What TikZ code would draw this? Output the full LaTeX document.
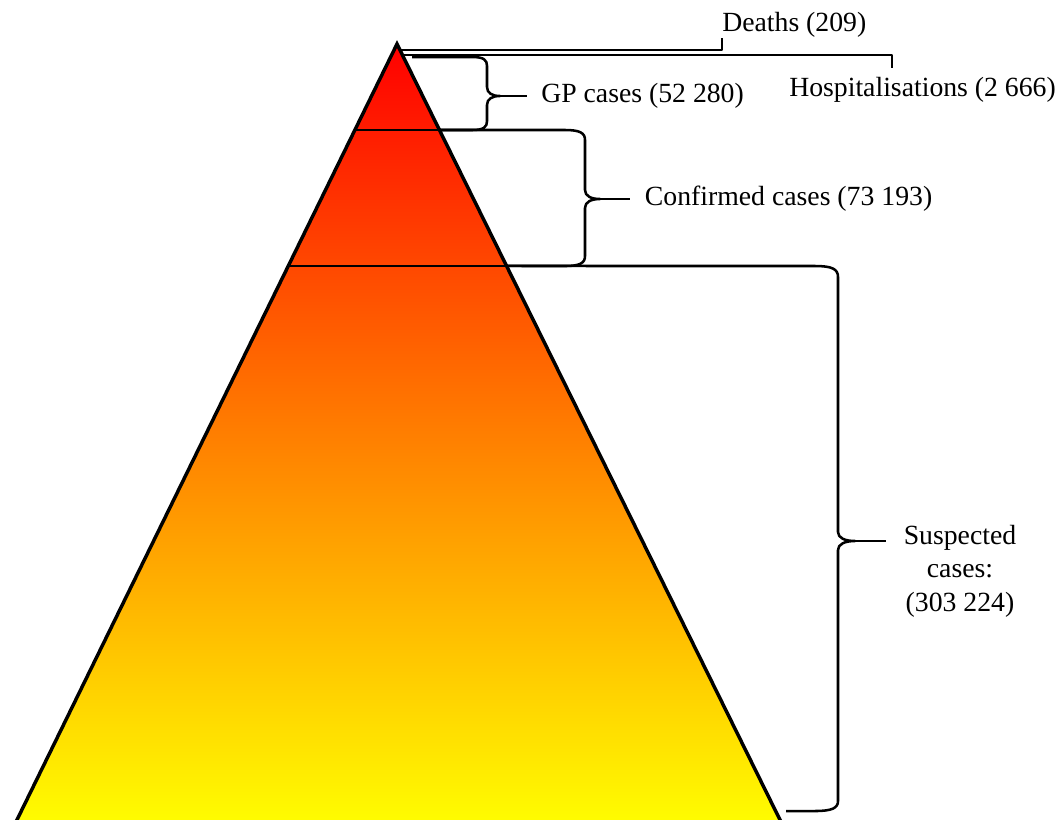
\documentclass[tikz,border=0pt]{standalone}
\usepackage{fontspec}
\setmainfont{Liberation Serif}
\usetikzlibrary{calc}

\begin{document}
\begin{tikzpicture}[x=0.75pt,y=0.75pt,yscale=-1,xscale=1,
  lbl/.style={font=\fontsize{20.8}{25}\selectfont, inner sep=0pt},
  brace/.style={line width=1.9, line join=round}]
%set diagram size to 1062 x 819
\clip (0,0) rectangle (1062,819);

%Shape: Triangle
\coordinate (apex) at (397,44);
\coordinate (bl) at (12,830);
\coordinate (br) at (785,830);
\shade [top color=red, bottom color=yellow] (apex) -- (bl) -- (br) -- cycle;
\draw [line width=2.6, line join=miter] (bl) -- (apex) -- (br);

%Straight Lines: levels
\coordinate (gpL) at ($(apex)!0.1094!(bl)$);
\coordinate (gpR) at ($(apex)!0.1094!(br)$);
\coordinate (cfL) at ($(apex)!0.2824!(bl)$);
\coordinate (cfR) at ($(apex)!0.2824!(br)$);
\draw [brace] (gpL) -- (gpR);
\draw [brace] (cfL) -- (cfR);

%Labels
\node [lbl, anchor=south west] (deaths) at (722,38) {Deaths (209)};
\node [lbl, anchor=west] (hosp) at (789,90) {Hospitalisations (2 666)};
\node [lbl, anchor=west, inner xsep=10.5pt] (gp) at (527,96) {GP cases (52 280)};
\node [lbl, anchor=west, inner xsep=11pt] (conf) at (630,199) {Confirmed cases (73 193)};
\node [lbl, align=center] (susp) at (960,571) {Suspected\\cases:\\(303 224)};

%Straight Lines: deaths and hospitalisations
\coordinate (dstart) at (399,50);
\coordinate (hstart) at (403,55);
\coordinate (hend) at (892,68);
\draw [brace] (dstart) -| (deaths.south west);
\draw [brace] (hstart) -| (hend);

%Curve Lines: GP brace
\coordinate (gptip) at (500,96);
\draw [brace] (412,57) -- (472,57) .. controls (484,57) and (487,60) .. (487,66) -- (487,87) .. controls (487,93) and (492,96) .. (gptip) .. controls (492,96) and (487,99) .. (487,105) -- (487,121) .. controls (487,127) and (484,130) .. (472,130) -- (gpR);
\draw [brace] (gptip) -- (gp.west);

%Curve Lines: confirmed brace
\coordinate (cftip) at (600,199);
\draw [brace] (gpR) -- (565,130) .. controls (580,130) and (585,133) .. (585,140) -- (585,190) .. controls (585,196) and (591,199) .. (cftip) .. controls (591,199) and (585,202) .. (585,208) -- (585,256) .. controls (585,263) and (580,266) .. (565,266) -- (cfR);
\draw [brace] (cftip) -- (conf.west);

%Curve Lines: suspected brace
\coordinate (sutip) at (855,541);
\draw [brace] (cfR) -- (815,266) .. controls (832,266) and (838,269) .. (838,277) -- (838,532) .. controls (838,538) and (845,541) .. (sutip) .. controls (845,541) and (838,544) .. (838,550) -- (838,801) .. controls (838,808) and (832,811) .. (815,811) -- (786,811);
\draw [brace] (sutip) -- ([xshift=-13.5pt]sutip -| susp.west);

\end{tikzpicture}
\end{document}
